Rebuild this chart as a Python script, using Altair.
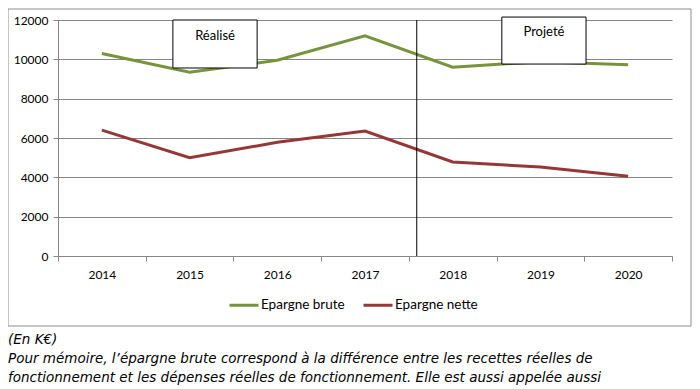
import altair as alt
import pandas as pd

# ---- data ----
years = ["2014", "2015", "2016", "2017", "2018", "2019", "2020"]
epargne_brute = [10300, 9350, 9950, 11200, 9600, 9880, 9720]
epargne_nette = [6400, 5000, 5780, 6350, 4780, 4520, 4060]
series_names = ["Epargne brute", "Epargne nette"]
series_colors = ["#77933C", "#953735"]
y_ticks = [0, 2000, 4000, 6000, 8000, 10000, 12000]

# annotations (in data units: fractional year positions / values)
box_labels = ["Réalisé", "Projeté"]
box_x0 = [2014.81, 2018.56]
box_x1 = [2015.77, 2019.52]
box_y0 = [9560, 9760]
box_y1 = [12000, 12150]
label_x = [2015.29, 2019.04]
label_y = [11190, 11390]
divider_x = [2017.59]
divider_y = [0, 12000]

caption_lines = [
    "(En K€)",
    "Pour mémoire, l’épargne brute correspond à la différence entre les recettes réelles de",
    "fonctionnement et les dépenses réelles de fonctionnement. Elle est aussi appelée aussi",
]

# ---- tables ----
rows = []
for name, vals in zip(series_names, [epargne_brute, epargne_nette]):
    for yr, v in zip(years, vals):
        rows.append({"Année": yr, "Valeur": v, "Série": name})
df = pd.DataFrame(rows)

boxes = pd.DataFrame({"x0": box_x0, "x1": box_x1, "y0": box_y0, "y1": box_y1,
                      "lx": label_x, "ly": label_y, "label": box_labels})
divider = pd.DataFrame({"x": divider_x * 2, "y": divider_y})
one = pd.DataFrame({"k": [0]})
caption = pd.DataFrame({"t": ["\n".join(caption_lines)]})

FONT = "Lato"
yscale = alt.Scale(domain=[0, 12000], nice=False)
qx = alt.Scale(domain=[2013.5, 2020.5], nice=False, zero=False)
y_axis = alt.Axis(title=None, values=y_ticks, format="d", grid=True, gridColor="#868686",
                  domainColor="#868686", tickColor="#868686", tickSize=5,
                  labelPadding=5, labelFont=FONT, labelFontSize=12,
                  labelColor="#000000", labelOverlap=False)

border = alt.Chart(one).mark_rect(fill="transparent", stroke="#8c8c8c", strokeWidth=1).encode(
    x=alt.value(-50), x2=alt.value(633), y=alt.value(-11), y2=alt.value(306)
)

lines = alt.Chart(df).mark_line(strokeWidth=3).encode(
    x=alt.X("Année:O", scale=alt.Scale(type="band", paddingInner=0, paddingOuter=0),
            bandPosition=0.5,
            axis=alt.Axis(title=None, labelAngle=0, tickBand="extent", grid=False,
                          domainColor="#868686", tickColor="#868686", tickSize=5,
                          labelPadding=8, labelFont=FONT, labelFontSize=12,
                          labelColor="#000000")),
    y=alt.Y("Valeur:Q", scale=yscale, axis=y_axis),
    color=alt.Color("Série:N", scale=alt.Scale(domain=series_names, range=series_colors),
                    legend=alt.Legend(title=None, orient="none", direction="horizontal",
                                      legendX=170, legendY=269, symbolType="stroke",
                                      symbolSize=841, symbolStrokeWidth=3,
                                      labelFont=FONT, labelFontSize=13.5,
                                      labelColor="#000000", labelOffset=1,
                                      columnPadding=12)),
)

divider_line = alt.Chart(divider).mark_line(color="#000000", strokeWidth=1).encode(
    x=alt.X("x:Q", scale=qx, axis=None),
    y=alt.Y("y:Q", scale=yscale, axis=y_axis),
)

box_rects = alt.Chart(boxes).mark_rect(fill="white", stroke="#000000", strokeWidth=1).encode(
    x=alt.X("x0:Q", scale=qx, axis=None), x2="x1:Q",
    y=alt.Y("y0:Q", scale=yscale, axis=y_axis), y2="y1:Q",
)

box_text = alt.Chart(boxes).mark_text(font=FONT, fontSize=13, color="#000000",
                                      baseline="middle", align="center").encode(
    x=alt.X("lx:Q", scale=qx, axis=None),
    y=alt.Y("ly:Q", scale=yscale, axis=y_axis),
    text="label:N",
)

caption_text = alt.Chart(caption).mark_text(
    font="DejaVu Sans", fontStyle="italic", fontSize=13.5, color="#000000",
    align="left", baseline="middle", lineBreak="\n", lineHeight=19
).encode(x=alt.value(-50), y=alt.value(320), text="t:N")

chart = alt.layer(border, lines, divider_line, box_rects, box_text, caption_text).resolve_scale(
    x="independent"
).properties(
    width=614, height=236,
    padding={"left": 50, "top": 12, "right": 20, "bottom": 133},
    autosize=alt.AutoSizeParams(type="none"),
    background="white",
).configure_view(stroke=None)

chart.save("out.html", embed_options={"renderer": "svg", "actions": False})
